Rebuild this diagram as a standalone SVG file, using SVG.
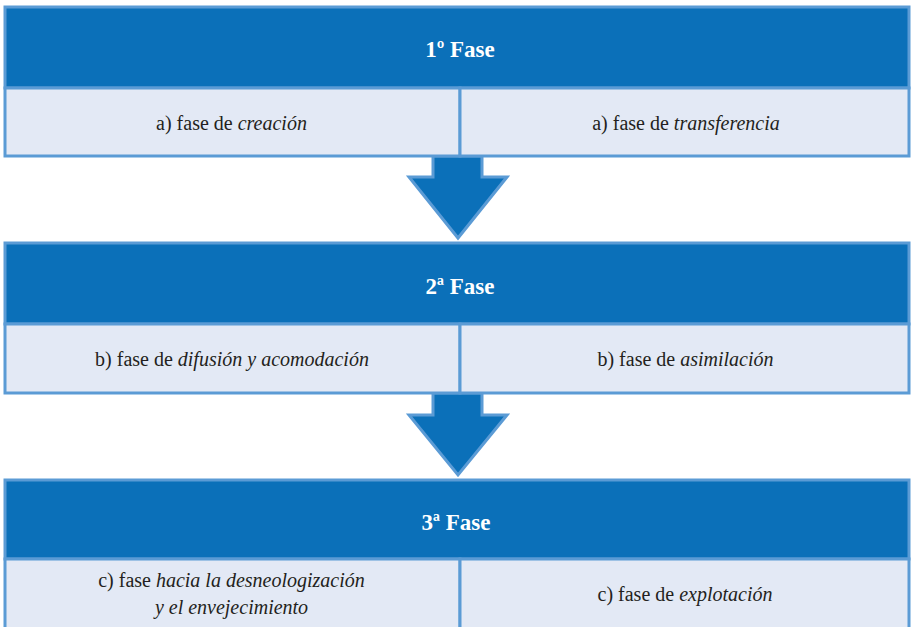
<svg xmlns="http://www.w3.org/2000/svg" width="911" height="627" viewBox="0 0 911 627">
  <style>
    .head { fill: #0b70b9; stroke: #5b9bd5; stroke-width: 3; }
    .cell { fill: #e3e9f5; stroke: #5b9bd5; stroke-width: 3; }
    .arrow { fill: #0b70b9; stroke: #5b9bd5; stroke-width: 3; stroke-linejoin: miter; }
    .ph { font-weight: bold; fill: #ffffff; text-anchor: middle; }
    .tx { fill: #231f20; text-anchor: middle; }
    .it { font-style: italic; }
  </style>
  <rect width="911" height="627" fill="#ffffff"/>

  <!-- connectors: block arrows between phases -->
  <g id="connectors">
    <path class="arrow" d="M433,156 L482,156 L482,177 L507,177 L458,238 L409,177 L433,177 Z"/>
    <path class="arrow" d="M433,393 L482,393 L482,415 L507,415 L458,475 L409,415 L433,415 Z"/>
  </g>

  <!-- phase 1 -->
  <g id="fase1">
    <rect class="head" x="5" y="7" width="904" height="81"/>
    <text class="ph" x="460" y="57" font-family="Liberation Serif" font-size="23">1º Fase</text>
  </g>
  <g id="fase1-a">
    <rect class="cell" x="5" y="88" width="455" height="68"/>
    <text class="tx" x="231.5" y="130" font-family="Liberation Serif" font-size="20">a) fase de <tspan class="it">creación</tspan></text>
  </g>
  <g id="fase1-b">
    <rect class="cell" x="460" y="88" width="449" height="68"/>
    <text class="tx" x="686" y="130" font-family="Liberation Serif" font-size="20">a) fase de <tspan class="it">transferencia</tspan></text>
  </g>

  <!-- phase 2 -->
  <g id="fase2">
    <rect class="head" x="5" y="243" width="904" height="81"/>
    <text class="ph" x="460" y="294" font-family="Liberation Serif" font-size="23">2ª Fase</text>
  </g>
  <g id="fase2-b1">
    <rect class="cell" x="5" y="324" width="455" height="69"/>
    <text class="tx" x="232" y="366" font-family="Liberation Serif" font-size="20">b) fase de <tspan class="it">difusión y acomodación</tspan></text>
  </g>
  <g id="fase2-b2">
    <rect class="cell" x="460" y="324" width="449" height="69"/>
    <text class="tx" x="685.5" y="366" font-family="Liberation Serif" font-size="20">b) fase de <tspan class="it">asimilación</tspan></text>
  </g>

  <!-- phase 3 -->
  <g id="fase3">
    <rect class="head" x="5" y="480" width="904" height="79"/>
    <text class="ph" x="456" y="530" font-family="Liberation Serif" font-size="23">3ª Fase</text>
  </g>
  <g id="fase3-c1">
    <rect class="cell" x="5" y="559" width="455" height="72"/>
    <text class="tx" x="231.5" y="587" font-family="Liberation Serif" font-size="20">c) fase <tspan class="it">hacia la desneologización</tspan></text>
    <text class="tx it" x="231.5" y="614" font-family="Liberation Serif" font-size="20">y el envejecimiento</text>
  </g>
  <g id="fase3-c2">
    <rect class="cell" x="460" y="559" width="449" height="72"/>
    <text class="tx" x="685" y="601" font-family="Liberation Serif" font-size="20">c) fase de <tspan class="it">explotación</tspan></text>
  </g>
</svg>
